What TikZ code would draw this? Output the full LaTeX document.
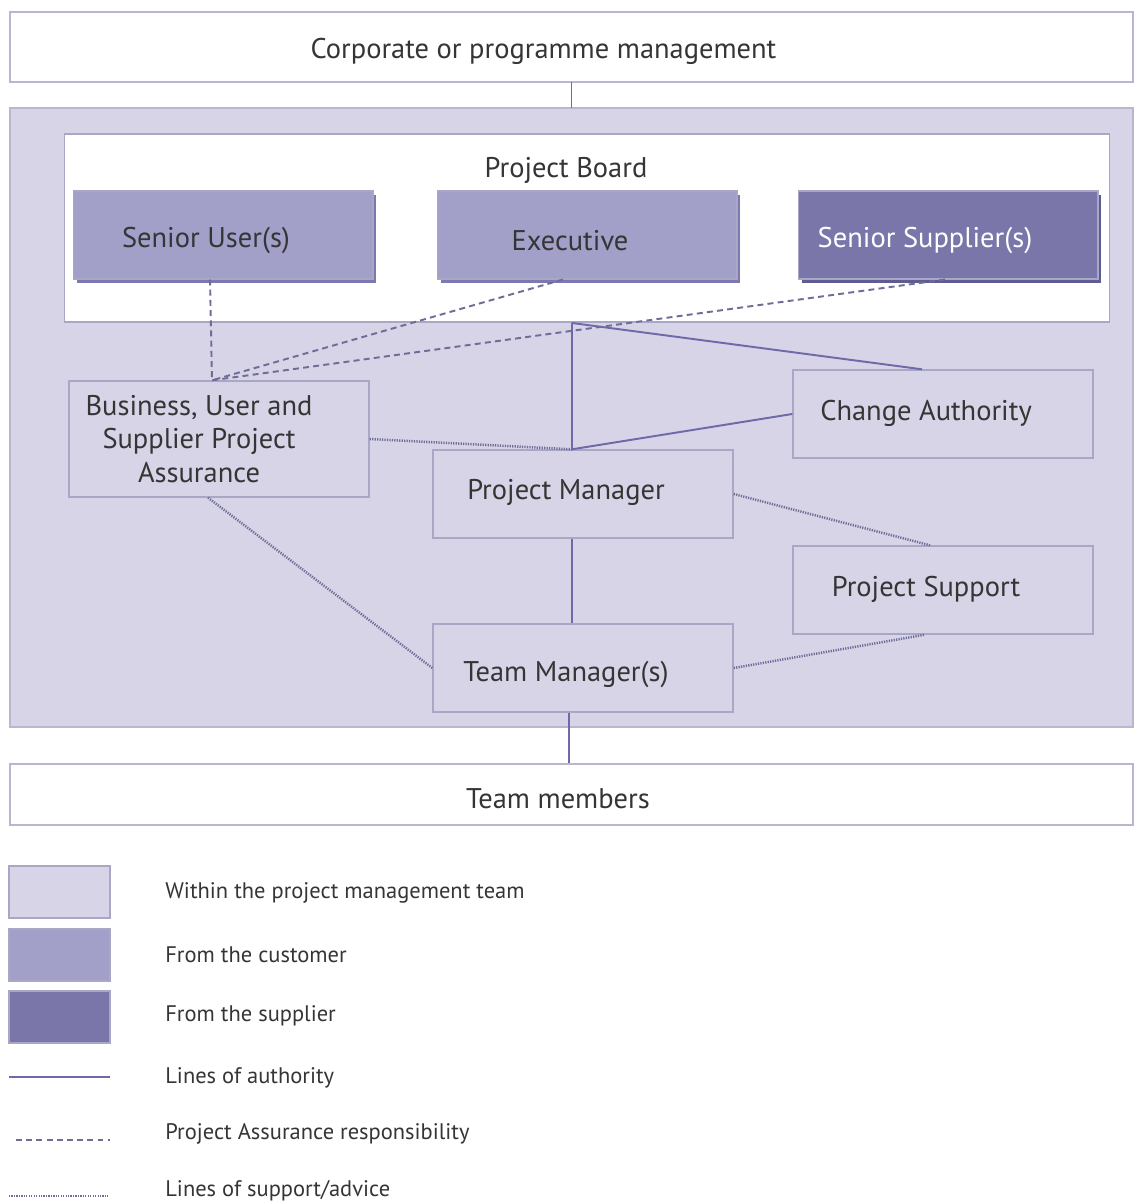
\documentclass[tikz,border=0pt]{standalone}
\usepackage{fontspec}
\setmainfont{PT Sans}
\usetikzlibrary{positioning}
\usetikzlibrary{shadows}

\definecolor{teamfill}{HTML}{D6D4E6}
\definecolor{custfill}{HTML}{A29FC9}
\definecolor{suppfill}{HTML}{7A76AA}
\definecolor{custshade}{HTML}{7D79B0}
\definecolor{suppshade}{HTML}{5F5B93}
\definecolor{boxline}{HTML}{A9A7C6}
\definecolor{outerline}{HTML}{B9B7CF}
\definecolor{authline}{HTML}{6E69A8}
\definecolor{pamline}{HTML}{6F6C98}
\definecolor{txtcol}{HTML}{353535}

\begin{document}
\begin{tikzpicture}[x=0.02cm,y=-0.02cm,
    every node/.style={text=txtcol},
    mainfont/.style={font=\fontsize{16.2}{19}\selectfont},
    txt/.style 2 args={label={[xshift=-0.34cm,yshift=#2,anchor=base,mainfont,text=txtcol]center:#1}},
    outerbox/.style={draw=outerline,line width=0.8pt,fill=white,minimum width=22.46cm},
    rolebox/.style={draw=boxline,line width=0.8pt,fill=teamfill,minimum width=6cm,minimum height=1.76cm},
    boardbox/.style={draw=boxline,line width=0.6pt,minimum width=6cm,minimum height=1.76cm},
    authority/.style={draw=authline,line width=1.1pt},
    assurance/.style={draw=pamline,line width=1.1pt,dash pattern=on 3.4pt off 2.4pt},
    support/.style={draw=pamline,line width=1.4pt,dash pattern=on 0.7pt off 0.7pt},
    legtxt/.style={anchor=west,inner sep=0pt,font=\fontsize{12.8}{15}\selectfont}
]
\useasboundingbox (0,0) rectangle (1135,1202);

% outer frames
\node[outerbox,minimum height=1.4cm,
      label={[xshift=-0.56cm,yshift=-0.08cm,anchor=base,mainfont,text=txtcol]center:Corporate or programme management}] (corp) at (571.5,47) {};
\draw[draw=outerline,line width=0.8pt,fill=teamfill] (10,108) rectangle (1133,727);
\node[draw=boxline,line width=0.6pt,fill=white,minimum width=20.92cm,minimum height=3.76cm] (board) at (587,228) {};
\node[mainfont,anchor=base] (boardlbl) at (566,178) {Project Board};
\node[outerbox,minimum height=1.22cm,
      label={[xshift=-0.27cm,yshift=-0.09cm,anchor=base,mainfont,text=txtcol]center:Team members}] (team) at (571.5,794.5) {};

% project board
\node[boardbox,fill=custfill,drop shadow={shadow xshift=0.07cm,shadow yshift=-0.08cm,fill=custshade,opacity=1},
      txt={Senior User(s)}{-0.12cm}] (senuser) at (223,235) {};
\node[boardbox,fill=custfill,drop shadow={shadow xshift=0.07cm,shadow yshift=-0.08cm,fill=custshade,opacity=1},
      txt={Executive}{-0.12cm}] (exec) at (587,235) {};
\node[boardbox,fill=suppfill,drop shadow={shadow xshift=0.07cm,shadow yshift=-0.08cm,fill=suppshade,opacity=1},
      label={[xshift=-0.46cm,yshift=-0.12cm,anchor=base,mainfont,text=white]center:Senior Supplier(s)}] (sensupp) at (948,235) {};

% project management team
\node[rolebox,minimum height=2.32cm,
      label={[xshift=-0.4cm,mainfont,text=txtcol,align=center]center:Business, User and\\Supplier Project\\Assurance}] (assur) at (219,439) {};
\node[rolebox,txt={Change Authority}{0.02cm}] (change) at (943,414) {};
\node[rolebox,txt={Project Manager}{0.04cm}] (pm) at (583,494) {};
\node[rolebox,txt={Project Support}{0.02cm}] (support) at (943,590) {};
\node[rolebox,txt={Team Manager(s)}{-0.12cm}] (tm) at (583,668) {};

\coordinate (bj) at (572,323);
\coordinate (pmj) at ([xshift=-0.22cm]pm.north);
\coordinate (paj) at ([xshift=-0.14cm]assur.north);

% lines of authority
\draw[authority] (corp.south |- 0,82) -- (corp.south |- 0,108);
\draw[authority] (bj) -- (pmj) -- (change.west);
\draw[authority] (bj) -- ([xshift=-0.42cm]change.north);
\draw[authority] ([xshift=-0.22cm]pm.south) -- ([xshift=-0.22cm]tm.north);
\draw[authority] ([xshift=-0.28cm]tm.south) -- ([xshift=-0.28cm]tm.south |- team.north);

% project assurance
\draw[assurance] ([xshift=-0.26cm]senuser.south) -- (paj);
\draw[assurance] ([xshift=-0.48cm]exec.south) -- (paj);
\draw[assurance] ([xshift=-0.06cm]sensupp.south) -- (paj);

% support / advice
\draw[support] (assur.east) -- (pmj);
\draw[support] ([xshift=-0.22cm]assur.south) -- (tm.west);
\draw[support] (pm.east) -- ([xshift=-0.26cm]support.north);
\draw[support] (tm.east) -- ([xshift=-0.36cm]support.south);

% legend
\node[draw=boxline,line width=0.6pt,fill=teamfill,minimum width=2.02cm,minimum height=1.04cm] (keyteam) at (59.5,892) {};
\node[draw=boxline,line width=0.6pt,fill=custfill,minimum width=2.02cm,minimum height=1.04cm] (keycust) at (59.5,955) {};
\node[draw=boxline,line width=0.6pt,fill=suppfill,minimum width=2.02cm,minimum height=1.04cm] (keysupp) at (59.5,1017) {};
\coordinate (keyauthA) at (9,1077);   \coordinate (keyauthB) at (110,1077);
\coordinate (keyassA) at (16,1140);   \coordinate (keyassB) at (110,1140);
\coordinate (keysupA) at (9,1196);    \coordinate (keysupB) at (108,1196);
\draw[authority] (keyauthA) -- (keyauthB);
\draw[assurance] (keyassA) -- (keyassB);
\draw[support] (keysupA) -- (keysupB);

\node[legtxt] (lteam) at (165,893) {Within the project management team};
\node[legtxt] (lcust) at (165,955) {From the customer};
\node[legtxt] (lsupp) at (165,1016) {From the supplier};
\node[legtxt] (lauth) at (165,1078) {Lines of authority};
\node[legtxt] (lass) at (165,1134) {Project Assurance responsibility};
\node[legtxt] (lsup) at (165,1191) {Lines of support/advice};
\end{tikzpicture}
\end{document}
